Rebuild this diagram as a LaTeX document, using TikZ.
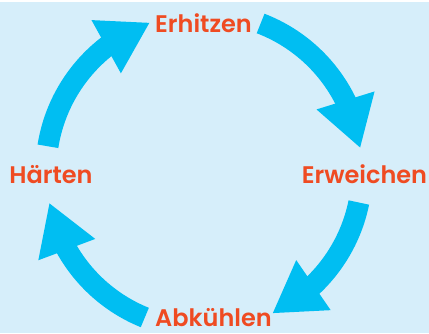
\documentclass[tikz,border=0pt]{standalone}
\usepackage{fontspec}
\setmainfont{Poppins}[BoldFont={* SemiBold}]
\usepackage{xcolor}
\usepackage{tikz}
\usetikzlibrary{arrows.meta,bending}
\definecolor{cycleblue}{HTML}{00BEF2}
\definecolor{stagered}{HTML}{EF4B22}
\definecolor{paleblue}{HTML}{D6EEFA}

\begin{document}
\begin{tikzpicture}[x=1pt, y=1pt,
  stage/.style={font=\fontsize{24}{28}\selectfont\bfseries, text=stagered, inner sep=0pt, anchor=base},
  arrow/.style={draw=cycleblue, line width=21pt, -{Triangle[length=50pt, width=57pt, flex]}}
]
  \useasboundingbox (0,0) rectangle (429,333);
  \fill[paleblue] (0,0) rectangle (429,331);

  \node[stage] (erh) at (203.5,301) {Erhitzen};
  \node[stage] (erw) at (364.5,150) {Erweichen};
  \node[stage] (abk) at (213.5,7) {Abkühlen};
  \node[stage] (har) at (51,150) {Härten};

  % circle the arrows run on
  \coordinate (mid) at (204,162);
  \coordinate (erh-out) at ([shift={(69:158)}]mid);
  \coordinate (erw-out) at ([shift={(-11.5:158)}]mid);
  \coordinate (abk-out) at ([shift={(-112:158)}]mid);
  \coordinate (har-out) at ([shift={(171:158)}]mid);

  \draw[arrow] (erh-out) arc[start angle=69, end angle=8.3, radius=158];
  \draw[arrow] (erw-out) arc[start angle=-11.5, end angle=-64.4, radius=158];
  \draw[arrow] (abk-out) arc[start angle=-112, end angle=-168.4, radius=158];
  \draw[arrow] (har-out) arc[start angle=171, end angle=110, radius=158];
\end{tikzpicture}
\end{document}
